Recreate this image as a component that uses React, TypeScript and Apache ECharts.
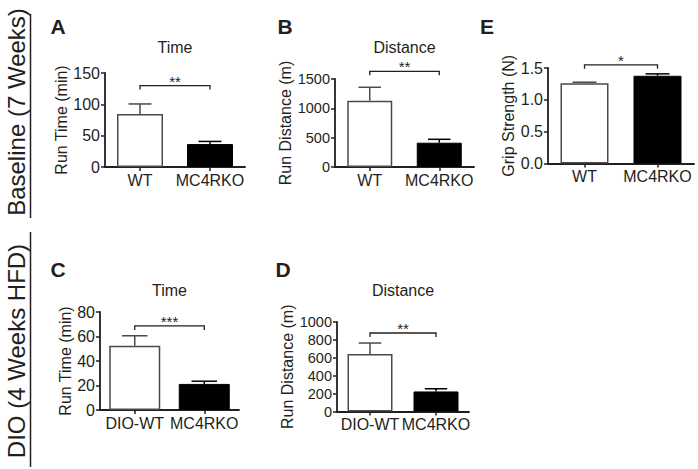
import React, { useEffect, useRef } from 'react';
import * as echarts from 'echarts';

const FONT = "'Liberation Sans', Arial, Helvetica, sans-serif";
const INK = '#231f20';
const EDGE = '#4a4a4a';

// ---- data ----
const baseCats = ['WT', 'MC4RKO'];
const dioCats = ['DIO-WT', 'MC4RKO'];

const timeBaseMean = [84.6, 36.6];
const timeBaseSem = [16, 4.2];
const distBaseMean = [1130, 414];
const distBaseSem = [229, 58];
const gripMean = [1.262, 1.378];
const gripSem = [0.015, 0.03];
const timeDioMean = [52.4, 21.3];
const timeDioSem = [8.2, 2.2];
const distDioMean = [643, 224];
const distDioSem = [122, 30];

const timeBaseAxis = [0, 150, 50];
const distBaseAxis = [0, 1500, 500];
const gripAxis = [0, 1.5, 0.5];
const timeDioAxis = [0, 80, 20];
const distDioAxis = [0, 1000, 200];

const sigLabels = ['**', '**', '*', '***', '**'];
const sigLevels = [130, 1630, 1.55, 68.6, 877];
const panelLetters = ['A', 'B', 'E', 'C', 'D'];
const panelTitles = ['Time', 'Distance', '', 'Time', 'Distance'];
const yNames = ['Run Time (min)', 'Run Distance (m)', 'Grip Strength (N)', 'Run Time (min)', 'Run Distance (m)'];
const groupLabels = ['Baseline (7 Weeks)', 'DIO (4 Weeks HFD)'];

// ---- layout (positions / sizes only) ----
const layouts = [
  { left: 105, top: 73, width: 140, height: 94, nameGap: 27, barWidth: 46, tickFont: 16, letter: [58, 26], titleY: 47 },
  { left: 335, top: 79, width: 139, height: 88, nameGap: 38, barWidth: 45, tickFont: 14.5, letter: [285, 26], titleY: 47 },
  { left: 548, top: 68, width: 146, height: 95.5, nameGap: 28, barWidth: 48, tickFont: 16, letter: [487, 26], titleY: 0 },
  { left: 100, top: 312, width: 139, height: 98, nameGap: 25, barWidth: 51, tickFont: 16, letter: [58, 269], titleY: 290 },
  { left: 337, top: 322, width: 132, height: 89.5, nameGap: 41, barWidth: 45, tickFont: 14.5, letter: [283, 269], titleY: 290 },
];

const panelData = [
  { cats: baseCats, mean: timeBaseMean, sem: timeBaseSem, axis: timeBaseAxis, dec: 0 },
  { cats: baseCats, mean: distBaseMean, sem: distBaseSem, axis: distBaseAxis, dec: 0 },
  { cats: baseCats, mean: gripMean, sem: gripSem, axis: gripAxis, dec: 1 },
  { cats: dioCats, mean: timeDioMean, sem: timeDioSem, axis: timeDioAxis, dec: 0 },
  { cats: dioCats, mean: distDioMean, sem: distDioSem, axis: distDioAxis, dec: 0 },
];

function buildOption() {
  const grid = layouts.map((l) => ({ left: l.left, top: l.top, width: l.width, height: l.height, containLabel: false }));
  const xAxis = panelData.map((p, i) => ({
    type: 'category',
    gridIndex: i,
    data: p.cats,
    axisLine: { show: true, lineStyle: { color: INK, width: 1.8 } },
    axisTick: { show: true, alignWithLabel: true, length: 4, lineStyle: { color: INK, width: 1.5 } },
    axisLabel: { color: INK, fontSize: 16, fontFamily: FONT, margin: 5, interval: 0 },
    splitLine: { show: false },
  }));
  const yAxis = panelData.map((p, i) => ({
    type: 'value',
    gridIndex: i,
    min: p.axis[0],
    max: p.axis[1],
    interval: p.axis[2],
    splitLine: { show: false },
    axisLine: { show: true, lineStyle: { color: INK, width: 1.8 } },
    axisTick: { show: true, length: 4, lineStyle: { color: INK, width: 1.5 } },
    axisLabel: {
      color: INK,
      fontSize: layouts[i].tickFont,
      fontFamily: FONT,
      margin: 5,
      formatter: (v: number) => v.toFixed(p.dec),
    },
    name: yNames[i],
    nameLocation: 'middle',
    nameGap: layouts[i].nameGap,
    nameRotate: 90,
    nameTextStyle: { color: INK, fontSize: 16, fontFamily: FONT },
  }));

  const series: any[] = [];
  panelData.forEach((p, i) => {
    series.push({
      type: 'bar',
      xAxisIndex: i,
      yAxisIndex: i,
      barWidth: layouts[i].barWidth,
      silent: true,
      data: p.mean.map((v, j) => ({
        value: v,
        itemStyle: j === 0
          ? { color: '#ffffff', borderColor: EDGE, borderWidth: 1.5 }
          : { color: '#000000', borderColor: '#000000', borderWidth: 1 },
      })),
    });
    const bw = layouts[i].barWidth;
    series.push({
      type: 'custom',
      xAxisIndex: i,
      yAxisIndex: i,
      silent: true,
      clip: false,
      encode: { x: 0, y: 1 },
      data: p.mean.map((v, j) => [j, v, p.sem[j]]),
      renderItem: (params: any, api: any) => {
        const x = api.value(0);
        const m = api.value(1);
        const s = api.value(2);
        const p0 = api.coord([x, m]);
        const p1 = api.coord([x, m + s]);
        const half = bw / 4;
        const col = x === 0 ? EDGE : '#000000';
        return {
          type: 'group',
          children: [
            { type: 'line', shape: { x1: p0[0], y1: p0[1], x2: p1[0], y2: p1[1] }, style: { stroke: col, lineWidth: 1.5 } },
            { type: 'line', shape: { x1: p1[0] - half, y1: p1[1], x2: p1[0] + half, y2: p1[1] }, style: { stroke: col, lineWidth: 1.5 } },
          ],
        };
      },
    });
    series.push({
      type: 'custom',
      xAxisIndex: i,
      yAxisIndex: i,
      silent: true,
      clip: false,
      encode: { x: 0, y: 1 },
      data: [[0, sigLevels[i]]],
      renderItem: (params: any, api: any) => {
        const y = api.value(1);
        const a = api.coord([0, y]);
        const b = api.coord([1, y]);
        const t = 4;
        return {
          type: 'group',
          children: [
            {
              type: 'polyline',
              shape: { points: [[a[0], a[1] + t], [a[0], a[1]], [b[0], a[1]], [b[0], a[1] + t]] },
              style: { stroke: INK, lineWidth: 1.3, fill: null },
            },
            {
              type: 'text',
              x: (a[0] + b[0]) / 2,
              y: a[1] + 3,
              style: { text: sigLabels[i], textAlign: 'center', textVerticalAlign: 'bottom', fontSize: 15, fontFamily: FONT, fill: INK },
            },
          ],
        };
      },
    });
  });

  const graphic: any[] = [];
  layouts.forEach((l, i) => {
    graphic.push({
      type: 'text',
      x: l.letter[0],
      y: l.letter[1],
      style: { text: panelLetters[i], textAlign: 'center', textVerticalAlign: 'middle', fontSize: 21, fontWeight: 'bold', fontFamily: FONT, fill: INK },
    });
    if (panelTitles[i]) {
      graphic.push({
        type: 'text',
        x: l.left + l.width / 2,
        y: l.titleY,
        style: { text: panelTitles[i], textAlign: 'center', textVerticalAlign: 'middle', fontSize: 16, fontFamily: FONT, fill: INK },
      });
    }
  });
  graphic.push({
    type: 'text', x: 16, y: 112, rotation: Math.PI / 2,
    style: { text: groupLabels[0], textAlign: 'center', textVerticalAlign: 'middle', fontSize: 24, fontFamily: FONT, fill: INK },
  });
  graphic.push({
    type: 'text', x: 16, y: 351, rotation: Math.PI / 2,
    style: { text: groupLabels[1], textAlign: 'center', textVerticalAlign: 'middle', fontSize: 24, fontFamily: FONT, fill: INK },
  });
  graphic.push({ type: 'line', shape: { x1: 30.5, y1: 14, x2: 30.5, y2: 218 }, style: { stroke: INK, lineWidth: 1.5 } });
  graphic.push({ type: 'line', shape: { x1: 30.5, y1: 232, x2: 30.5, y2: 467 }, style: { stroke: INK, lineWidth: 1.5 } });

  return {
    animation: false,
    backgroundColor: '#ffffff',
    textStyle: { fontFamily: FONT },
    grid,
    xAxis,
    yAxis,
    series,
    graphic,
  };
}

export default function App() {
  const ref = useRef<HTMLDivElement>(null);
  useEffect(() => {
    if (!ref.current) return;
    const chart = echarts.init(ref.current, undefined, { renderer: 'svg' });
    chart.setOption(buildOption() as any);
    return () => chart.dispose();
  }, []);
  return <div ref={ref} style={{ position: 'absolute', left: 0, top: 0, width: 698, height: 469 }} />;
}
